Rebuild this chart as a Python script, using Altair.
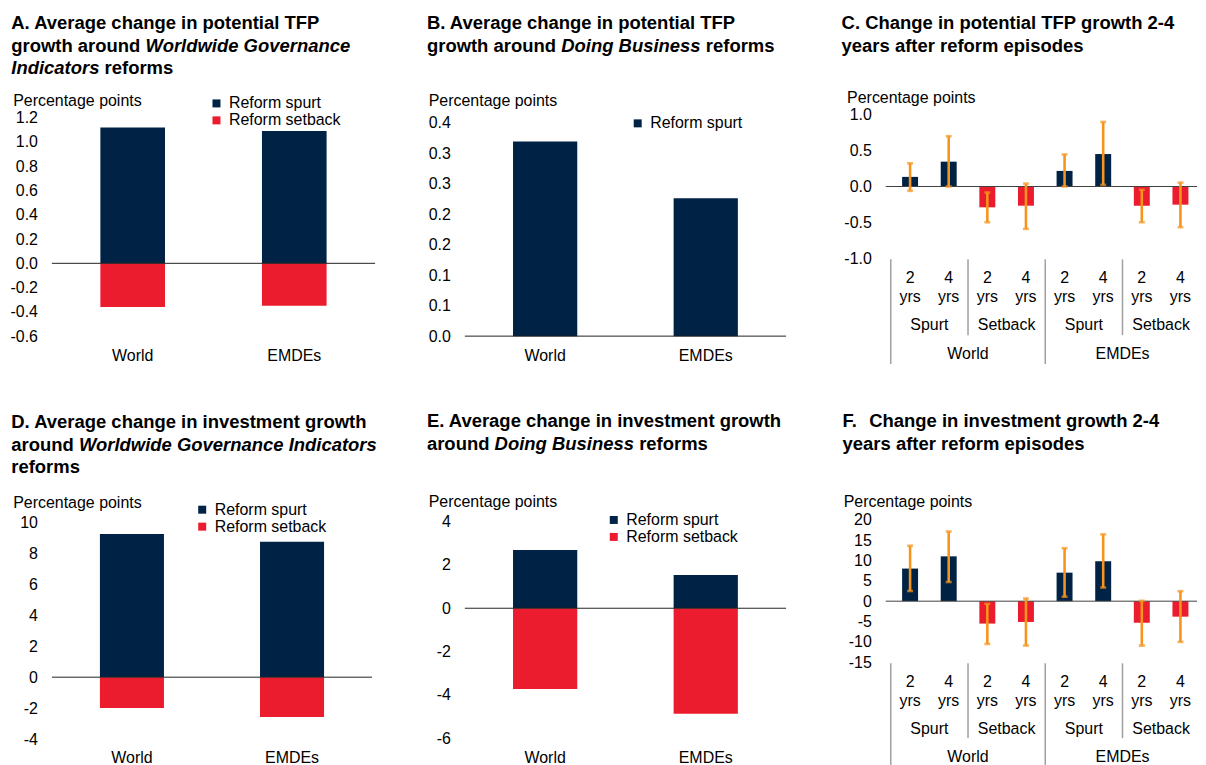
import altair as alt
import pandas as pd

FONT = "Liberation Sans"
NAVY = "#002345"
RED = "#EB1C2D"
ORANGE = "#F7941D"
SEP_GRAY = "#a0a0a0"
AXIS_LINE = "#222222"

# ---------------- data ----------------
categories = ["World", "EMDEs"]
series_names = ["Reform spurt", "Reform setback"]

# A. TFP growth around WGI reforms
a_spurt = [1.12, 1.09]
a_setback = [-0.36, -0.35]
a_ticks = [-0.6, -0.4, -0.2, 0.0, 0.2, 0.4, 0.6, 0.8, 1.0, 1.2]

# B. TFP growth around Doing Business reforms
b_spurt = [0.319, 0.226]
b_ticks = [0.0, 0.05, 0.10, 0.15, 0.20, 0.25, 0.30, 0.35]
b_tick_labels = ["0.0", "0.1", "0.1", "0.2", "0.2", "0.3", "0.3", "0.4"]

# C. TFP growth 2-4 years after reform episodes
episode_regions = ["World"] * 4 + ["EMDEs"] * 4
episode_types = ["Spurt", "Spurt", "Setback", "Setback"] * 2
episode_years = ["2", "4"] * 4
type_groups = ["Spurt", "Setback", "Spurt", "Setback"]
region_groups = ["World", "EMDEs"]
c_values = [0.134, 0.346, -0.29, -0.267, 0.217, 0.452, -0.267, -0.253]
c_low = [-0.06, 0.0, -0.498, -0.59, 0.0, 0.023, -0.498, -0.567]
c_high = [0.323, 0.70, -0.083, 0.041, 0.447, 0.899, -0.046, 0.055]
c_ticks = [-1.0, -0.5, 0.0, 0.5, 1.0]

# D. Investment growth around WGI reforms
d_spurt = [9.25, 8.75]
d_setback = [-1.99, -2.57]
d_ticks = [-4, -2, 0, 2, 4, 6, 8, 10]

# E. Investment growth around Doing Business reforms
e_spurt = [2.69, 1.54]
e_setback = [-3.73, -4.87]
e_ticks = [-6, -4, -2, 0, 2, 4]

# F. Investment growth 2-4 years after reform episodes
f_values = [8.0, 11.0, -5.5, -5.1, 7.0, 9.8, -5.3, -3.8]
f_low = [2.5, 4.7, -10.5, -10.9, 1.1, 3.35, -10.9, -10.0]
f_high = [13.6, 17.1, -0.65, 0.65, 13.0, 16.4, 0.1, 2.45]
f_ticks = [-15, -10, -5, 0, 5, 10, 15, 20]

# titles: lines of (text, italic)
title_a = [[("A. Average change in potential TFP", False)],
           [("growth around ", False), ("Worldwide Governance", True)],
           [("Indicators", True), (" reforms", False)]]
title_b = [[("B. Average change in potential TFP", False)],
           [("growth around ", False), ("Doing Business", True), (" reforms", False)]]
title_c = [[("C. Change in potential TFP growth 2-4", False)],
           [("years after reform episodes", False)]]
title_d = [[("D. Average change in investment growth", False)],
           [("around ", False), ("Worldwide Governance Indicators", True)],
           [("reforms", False)]]
title_e = [[("E. Average change in investment growth", False)],
           [("around ", False), ("Doing Business", True), (" reforms", False)]]
title_f = [[("F.", False), ("  Change in investment growth 2-4", False)],
           [("years after reform episodes", False)]]

# ---------------- helpers ----------------
BOLD_W = {" ": 278, ".": 278, "-": 333,
          "a": 556, "b": 611, "c": 556, "d": 611, "e": 556, "f": 333, "g": 611, "h": 611,
          "i": 278, "j": 278, "k": 556, "l": 278, "m": 889, "n": 611, "o": 611, "p": 611,
          "q": 611, "r": 389, "s": 556, "t": 333, "u": 611, "v": 556, "w": 778, "x": 556,
          "y": 556, "z": 500,
          "A": 722, "B": 722, "C": 722, "D": 722, "E": 667, "F": 611, "G": 778, "H": 722,
          "I": 278, "P": 667, "T": 611, "W": 944}
for _d in "0123456789":
    BOLD_W[_d] = 556

TITLE_SIZE = 18.5
LINE_STEP = 22.4
TXT = 16
LEGEND_SHIFT = -9

one_row = pd.DataFrame({"k": [0]})


def bold_width(s):
    return sum(BOLD_W.get(ch, 556) for ch in s) * TITLE_SIZE / 1000.0


def title_layers(lines, rel_x, rel_y):
    layers = []
    for li, segs in enumerate(lines):
        x = rel_x
        for text, italic in segs:
            stripped = text.lstrip(" ")
            lead = len(text) - len(stripped)
            layers.append(
                alt.Chart(one_row).mark_text(
                    align="left", baseline="alphabetic", font=FONT, fontSize=TITLE_SIZE,
                    fontWeight="bold", fontStyle="italic" if italic else "normal", color="black"
                ).encode(x=alt.value(x + bold_width(" " * lead)),
                         y=alt.value(rel_y + li * LINE_STEP),
                         text=alt.value(stripped))
            )
            x += bold_width(text)
    return layers


def signed(spec):
    return "(datum.value < 0 ? '-' : '') + format(abs(datum.value), '" + spec + "')"


def y_axis(ticks, label_expr, pp_rel):
    return alt.Axis(values=ticks, tickCount=50, labelExpr=label_expr, grid=False,
                    domain=False, ticks=False,
                    tickSize=0, labelPadding=14.5, labelFontSize=TXT, labelFont=FONT,
                    labelColor="black", labelOverlap=False, labelFlush=False,
                    labelBound=False,
                    title="Percentage points", titleAngle=0,
                    titleAlign="left", titleBaseline="alphabetic", titleX=pp_rel[0],
                    titleY=pp_rel[1], titleFont=FONT, titleFontSize=TXT,
                    titleFontWeight="normal", titleColor="black")


def bar_panel(spurt, setback, ticks, domain, plot_w, cell_w, height, origin, title_lines,
              title_abs, pp_abs, legend_abs, label_expr, xlabel_pad):
    ox, oy = origin
    rows = []
    for i, c in enumerate(categories):
        rows.append({"region": c, "series": series_names[0], "value": spurt[i]})
        if setback is not None:
            rows.append({"region": c, "series": series_names[1], "value": setback[i]})
    df = pd.DataFrame(rows)
    present = series_names if setback is not None else series_names[:1]
    colors = [NAVY, RED][:len(present)]
    yscale = alt.Scale(domain=domain, nice=False, zero=False)
    yax = y_axis(ticks, label_expr, (pp_abs[0] - ox, pp_abs[1] - oy))
    xax = alt.Axis(title=None, labelAngle=0, domain=False, ticks=False, tickSize=0,
                   labelPadding=xlabel_pad, labelFontSize=TXT, labelFont=FONT,
                   labelColor="black", labelOverlap=False)
    bars = alt.Chart(df).mark_bar().encode(
        x=alt.X("region:N", sort=categories,
                scale=alt.Scale(range=[0, plot_w], paddingInner=0.6, paddingOuter=0.3),
                axis=xax),
        y=alt.Y("value:Q", stack=None, scale=yscale, axis=yax),
        y2=alt.datum(0),
        color=alt.Color("series:N", scale=alt.Scale(domain=present, range=colors),
                        legend=alt.Legend(title=None, orient="none",
                                          legendX=legend_abs[0] - ox + LEGEND_SHIFT,
                                          legendY=legend_abs[1] - oy,
                                          direction="vertical", symbolType="square",
                                          symbolSize=64, symbolStrokeWidth=0,
                                          labelFontSize=TXT, labelFont=FONT,
                                          labelColor="black", labelOffset=4.5,
                                          rowPadding=1, padding=0, labelLimit=300)),
    )
    zero = alt.Chart(one_row).mark_rule(color=AXIS_LINE, strokeWidth=1).encode(
        y=alt.datum(0), x=alt.value(0), x2=alt.value(plot_w))
    layers = [bars, zero] + title_layers(title_lines, title_abs[0] - ox, title_abs[1] - oy)
    return alt.layer(*layers).properties(width=cell_w, height=height)


X_SLOTS = 7.8
SLOT_PX = 40


def episode_panel(values, low, high, ticks, domain, height, origin, title_lines, title_abs,
                  pp_abs, label_expr, inner_len, outer_len, region_dy):
    ox, oy = origin
    df = pd.DataFrame({"idx": list(range(8)), "region": episode_regions,
                       "type": episode_types, "yrs": episode_years,
                       "value": values, "low": low, "high": high})
    xscale = alt.Scale(domain=[0, X_SLOTS], nice=False, zero=False)
    xenc = alt.X("pos:Q", scale=xscale, axis=None)
    yscale = alt.Scale(domain=domain, nice=False, zero=False)
    yax = y_axis(ticks, label_expr, (pp_abs[0] - ox, pp_abs[1] - oy))
    base = alt.Chart(df).transform_calculate(pos="datum.idx + 0.5")

    bars = base.mark_bar(size=16).encode(
        x=xenc,
        y=alt.Y("value:Q", scale=yscale, axis=yax),
        y2=alt.datum(0),
        color=alt.Color("type:N", scale=alt.Scale(domain=["Spurt", "Setback"],
                                                   range=[NAVY, RED]), legend=None),
    )
    zero = alt.Chart(one_row).mark_rule(color="#404040", strokeWidth=1).encode(y=alt.datum(0))
    err = base.mark_rule(color=ORANGE, strokeWidth=2.6).encode(
        x=xenc, y=alt.Y("low:Q", scale=yscale, axis=yax), y2="high:Q")
    cap_lo = base.mark_tick(color=ORANGE, orient="horizontal", size=6, thickness=2.6).encode(
        x=xenc, y=alt.Y("low:Q", scale=yscale, axis=yax))
    cap_hi = base.mark_tick(color=ORANGE, orient="horizontal", size=6, thickness=2.6).encode(
        x=xenc, y=alt.Y("high:Q", scale=yscale, axis=yax))

    txt = dict(font=FONT, fontSize=TXT, color="black", align="center", baseline="middle")
    yr_num = base.mark_text(**txt).encode(x=xenc, y=alt.value(height + 19.7), text="yrs:N")
    yr_txt = base.mark_text(**txt).encode(x=xenc, y=alt.value(height + 39),
                                          text=alt.value("yrs"))
    df_types = pd.DataFrame({"g": list(range(len(type_groups))), "label": type_groups})
    df_regions = pd.DataFrame({"g": list(range(len(region_groups))), "label": region_groups})
    type_txt = alt.Chart(df_types).transform_calculate(pos="2 * datum.g + 1").mark_text(
        **txt).encode(x=xenc, y=alt.value(height + 67), text="label:N")
    region_txt = alt.Chart(df_regions).transform_calculate(pos="4 * datum.g + 2").mark_text(
        **txt).encode(x=xenc, y=alt.value(height + region_dy), text="label:N")
    inner_sep = alt.Chart(df_regions).transform_calculate(pos="4 * datum.g + 2").mark_rule(
        color=SEP_GRAY, strokeWidth=1.5).encode(
        x=xenc, y=alt.value(height + 1), y2=alt.value(height + inner_len))
    outer_sep = alt.Chart(df_regions).transform_calculate(pos="4 * datum.g").mark_rule(
        color=SEP_GRAY, strokeWidth=1.5).encode(
        x=xenc, y=alt.value(height + 1), y2=alt.value(height + outer_len))

    layers = [bars, zero, err, cap_lo, cap_hi, yr_num, yr_txt, type_txt, region_txt,
              inner_sep, outer_sep]
    layers += title_layers(title_lines, title_abs[0] - ox, title_abs[1] - oy)
    return alt.layer(*layers).properties(width=SLOT_PX * X_SLOTS, height=height)


# ---------------- panels (page-pixel anchors) ----------------
COL_SPACING = 90
COL1_W = 324
COL2_W = 332
X1 = 50
X2 = X1 + COL1_W + COL_SPACING          # 464
X3 = X2 + COL2_W + COL_SPACING          # 886
Y1 = 113
ROW1_H = 222
ROW_SPACING = 184
Y2 = Y1 + ROW1_H + ROW_SPACING          # 519

A = bar_panel(a_spurt, a_setback, a_ticks, [-0.6, 1.2247], 324, 324, ROW1_H, (X1, Y1),
              title_a, (9.3, 27.3), (10.7, 103.3), (216, 93.7), signed(".1f"), 11)

b_expr = "[" + ",".join("'" + s + "'" for s in b_tick_labels) + "][round(datum.value / 0.05)]"
B = bar_panel(b_spurt, None, b_ticks, [0, 0.3631], 322, COL2_W, ROW1_H, (X2, Y1), title_b,
              (426, 27.3), (427.3, 103.3), (638.3, 113.7), b_expr, 11)

C = episode_panel(c_values, c_low, c_high, c_ticks, [-1, 1], 144, (X3, Y1), title_c,
                  (841.7, 27.3), (846.7, 101), signed(".1f"), 77, 106, 96)

D = bar_panel(d_spurt, d_setback, d_ticks, [-4, 10.174], 321, 321, 220, (X1, Y2), title_d,
              (9.3, 427.3), (10.7, 506.7), (201.7, 501), signed("d"), 10.5)

E = bar_panel(e_spurt, e_setback, e_ticks, [-6, 4.092], 322, COL2_W, 219, (X2, Y2), title_e,
              (426, 426.3), (427.3, 506), (614.3, 511.3), signed("d"), 11.5)

F = episode_panel(f_values, f_low, f_high, f_ticks, [-15, 20], 143, (X3, Y2), title_f,
                  (842.7, 426.3), (843.3, 505.7), signed("d"), 76, 103, 95)

chart = alt.concat(
    A, B, C, D, E, F, columns=3, bounds="flush", align="each",
    spacing={"row": ROW_SPACING, "column": COL_SPACING},
).resolve_scale(
    color="independent", x="independent", y="independent"
).resolve_legend(color="independent").properties(
    padding={"left": 1, "top": 5, "right": 0, "bottom": 0},
    background="white",
).configure_view(strokeWidth=0)

chart.save("out.html", embed_options={"renderer": "svg", "actions": False})
